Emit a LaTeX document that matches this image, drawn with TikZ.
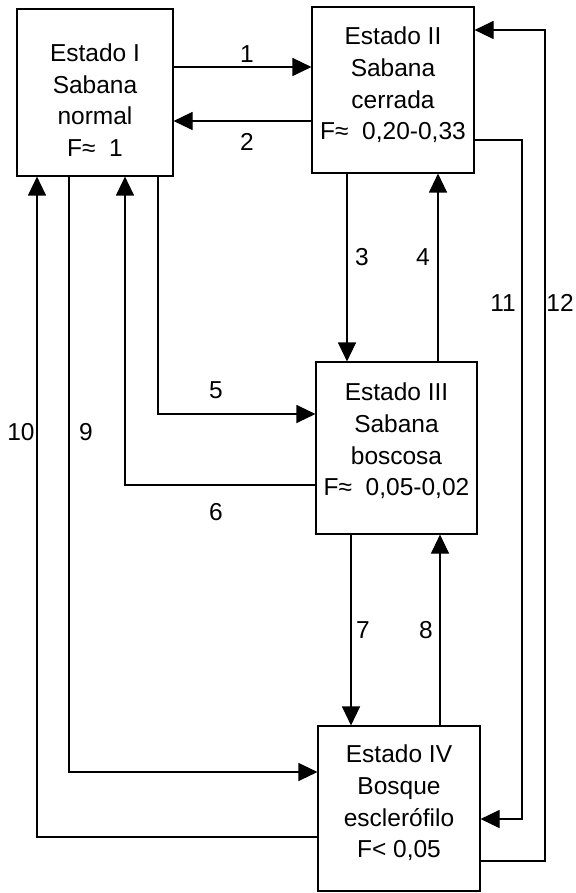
\documentclass[tikz,border=0pt]{standalone}
\usepackage{fontspec}
\setmainfont{Liberation Sans}
\usetikzlibrary{arrows.meta,calc}
\begin{document}
\begin{tikzpicture}[x=1pt,y=-1pt,
  boxst/.style={draw,line width=1.1pt,inner sep=0pt},
  txt/.style={align=center,font=\fontsize{24.5}{31.7}\selectfont,inner sep=0pt},
  lab/.style={font=\fontsize{24.5}{28}\selectfont,inner sep=0pt},
  con/.style={line width=1.1pt},
  arr/.style={line width=1.1pt,-{Triangle[length=19pt,width=18pt]}}]
\useasboundingbox (0,0) rectangle (575,893);
% boxes
\node[boxst,minimum width=156pt,minimum height=167pt] (b1) at (95,92.5) {};
\node[boxst,minimum width=162pt,minimum height=166pt] (b2) at (393,90) {};
\node[boxst,minimum width=161pt,minimum height=172pt] (b3) at (396.5,448) {};
\node[boxst,minimum width=162pt,minimum height=165pt] (b4) at (399,808.5) {};
% texts
\node[txt] (t1) at (95,100) {Estado I\\Sabana\\normal\\F≈\ \ 1};
\node[txt] (t2) at (393,85) {Estado II\\Sabana\\cerrada\\F≈\ \ 0,20-0,33};
\node[txt] (t3) at (396.5,441) {Estado III\\Sabana\\boscosa\\F≈\ \ 0,05-0,02};
\node[txt] (t4) at (399,803) {Estado IV\\Bosque\\esclerófilo\\F< 0,05};
% helper coordinates
\coordinate (y1) at (0,67);
\coordinate (y2) at (0,121);
\coordinate (x3) at (347,0);
\coordinate (x4) at (438,0);
\coordinate (x5) at (158,414);
\coordinate (x6) at (125,485);
\coordinate (x7) at (351,0);
\coordinate (x8) at (440,0);
\coordinate (x9) at (69,772);
\coordinate (x10) at (37,837);
\coordinate (x11a) at (522,140);
\coordinate (x11b) at (522,819);
\coordinate (x12a) at (545,861);
\coordinate (x12b) at (545,30);
% connectors
\draw[arr] (b1.east |- y1) -- (b2.west |- y1);
\draw[arr] (b2.west |- y2) -- (b1.east |- y2);
\draw[arr] (b2.south -| x3) -- (b3.north -| x3);
\draw[arr] (b3.north -| x4) -- (b2.south -| x4);
\draw[arr] (b1.south -| x5) -- (x5) -- (b3.west |- x5);
\draw[arr] (b3.west |- x6) -- (x6) -- (b1.south -| x6);
\draw[arr] (b3.south -| x7) -- (b4.north -| x7);
\draw[arr] (b4.north -| x8) -- (b3.south -| x8);
\draw[arr] (b1.south -| x9) -- (x9) -- (b4.west |- x9);
\draw[arr] (b4.west |- x10) -- (x10) -- (b1.south -| x10);
\draw[arr] (b2.east |- x11a) -- (x11a) -- (x11b) -- (b4.east |- x11b);
\draw[arr] (b4.east |- x12a) -- (x12a) -- (x12b) -- (b2.east |- x12b);
% labels
\node[lab] (l1) at (247,54) {1};
\node[lab] (l2) at (247,142) {2};
\node[lab] (l3) at (362,257) {3};
\node[lab] (l4) at (423,257) {4};
\node[lab] (l5) at (216,390) {5};
\node[lab] (l6) at (216,512) {6};
\node[lab] (l7) at (363,630) {7};
\node[lab] (l8) at (426,630) {8};
\node[lab] (l9) at (86,432) {9};
\node[lab] (l10) at (21,432) {10};
\node[lab] (l11) at (503,303) {11};
\node[lab] (l12) at (560,303) {12};
\end{tikzpicture}
\end{document}
